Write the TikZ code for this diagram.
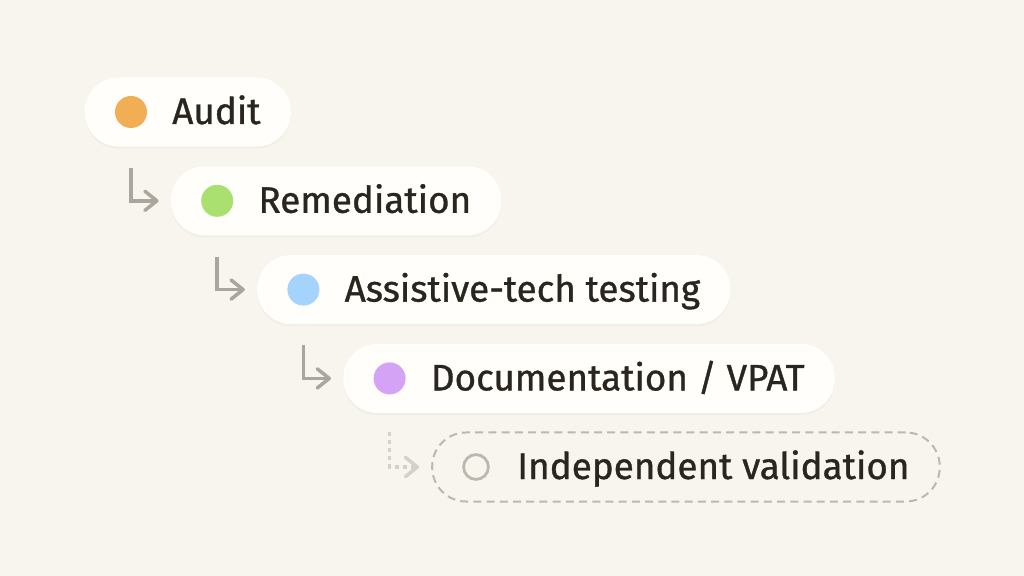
\documentclass[tikz,border=0pt]{standalone}
\usepackage{fontspec}
\setmainfont{Fira Sans}
\newfontfamily\stagefont[RawFeature={embolden=0.9}]{Fira Sans}
\usetikzlibrary{positioning,fit,calc,backgrounds,arrows.meta,shadows}

\pgfdeclarelayer{pills}
\pgfsetlayers{background,pills,main}

\definecolor{paper}{HTML}{F8F5EE}
\definecolor{pillfill}{HTML}{FFFEFB}
\definecolor{ink}{HTML}{2A251F}
\definecolor{arrowgrey}{HTML}{ABA69D}
\definecolor{arrowlight}{HTML}{D6D1C8}
\definecolor{dashgrey}{HTML}{BDB8AE}
\definecolor{dotaudit}{HTML}{F2AE55}
\definecolor{dotremed}{HTML}{A9E070}
\definecolor{dotat}{HTML}{A4D3FB}
\definecolor{dotdoc}{HTML}{D4A3F5}

\tikzset{
    stagetext/.style = {anchor=base west, inner sep=0pt, text=ink,
                        font=\stagefont\fontsize{26.2}{31}\selectfont},
    stagedot/.style  = {circle, inner sep=0pt, minimum size=0.8cm},
    pill/.style      = {rectangle, rounded corners=0.85cm, inner xsep=0.75cm,
                        inner ysep=0pt, minimum height=1.725cm},
    flow/.style      = {draw=arrowgrey, line width=0.0875cm,
                        -{Straight Barb[length=3mm, width=4.8mm, round]}},
}

\begin{document}
\begin{tikzpicture}[x=0.025cm, y=-0.025cm]
    \begin{pgfonlayer}{background}
        \fill[paper] (0,0) rectangle (1024,576);
    \end{pgfonlayer}
    \useasboundingbox (0,0) rectangle (1024,576);

    % solid stages
    \foreach \name/\txt/\col [count=\i from 0] in {
            audit/Audit/dotaudit,
            remed/Remediation/dotremed,
            at/Assistive-tech testing/dotat,
            doc/{Documentation / VPAT}/dotdoc} {
        \node[stagedot, fill=\col] (\name dot) at (131+86.2*\i, 112+88.8*\i) {};
        \node[stagetext] (\name text) at ($(\name dot)+(41,12)$) {\txt};
        \begin{pgfonlayer}{pills}
            \node[pill, fill=pillfill,
                  drop shadow={shadow xshift=0pt, shadow yshift=-1.5pt, opacity=0.06},
                  fit=(\name dot)(\name text.east |- \name dot)] (\name) {};
        \end{pgfonlayer}
    }

    % optional stage
    \node[stagedot, draw=dashgrey, line width=0.07cm, minimum size=0.62cm] (indepdot) at (476,467) {};
    \node[stagetext] (indeptext) at ($(indepdot)+(41,12)$) {Independent validation};
    \begin{pgfonlayer}{pills}
        \node[pill, draw=dashgrey, line width=0.05cm, dash pattern=on 0.2cm off 0.13cm,
              fit=(indepdot)(indeptext.east |- indepdot)] (indep) {};
    \end{pgfonlayer}

    % connectors
    \foreach \a/\b in {audit/remed, remed/at, at/doc}
        \draw[flow] ($(\a dot |- \a.south)+(0,21)$) |- ($(\b.west)+(-12,0)$);
    \draw[flow, draw=arrowlight, dash pattern=on 0.1cm off 0.1cm]
        ($(docdot |- doc.south)+(0,19)$) |- ($(indep.west)+(-12,0)$);
\end{tikzpicture}
\end{document}
